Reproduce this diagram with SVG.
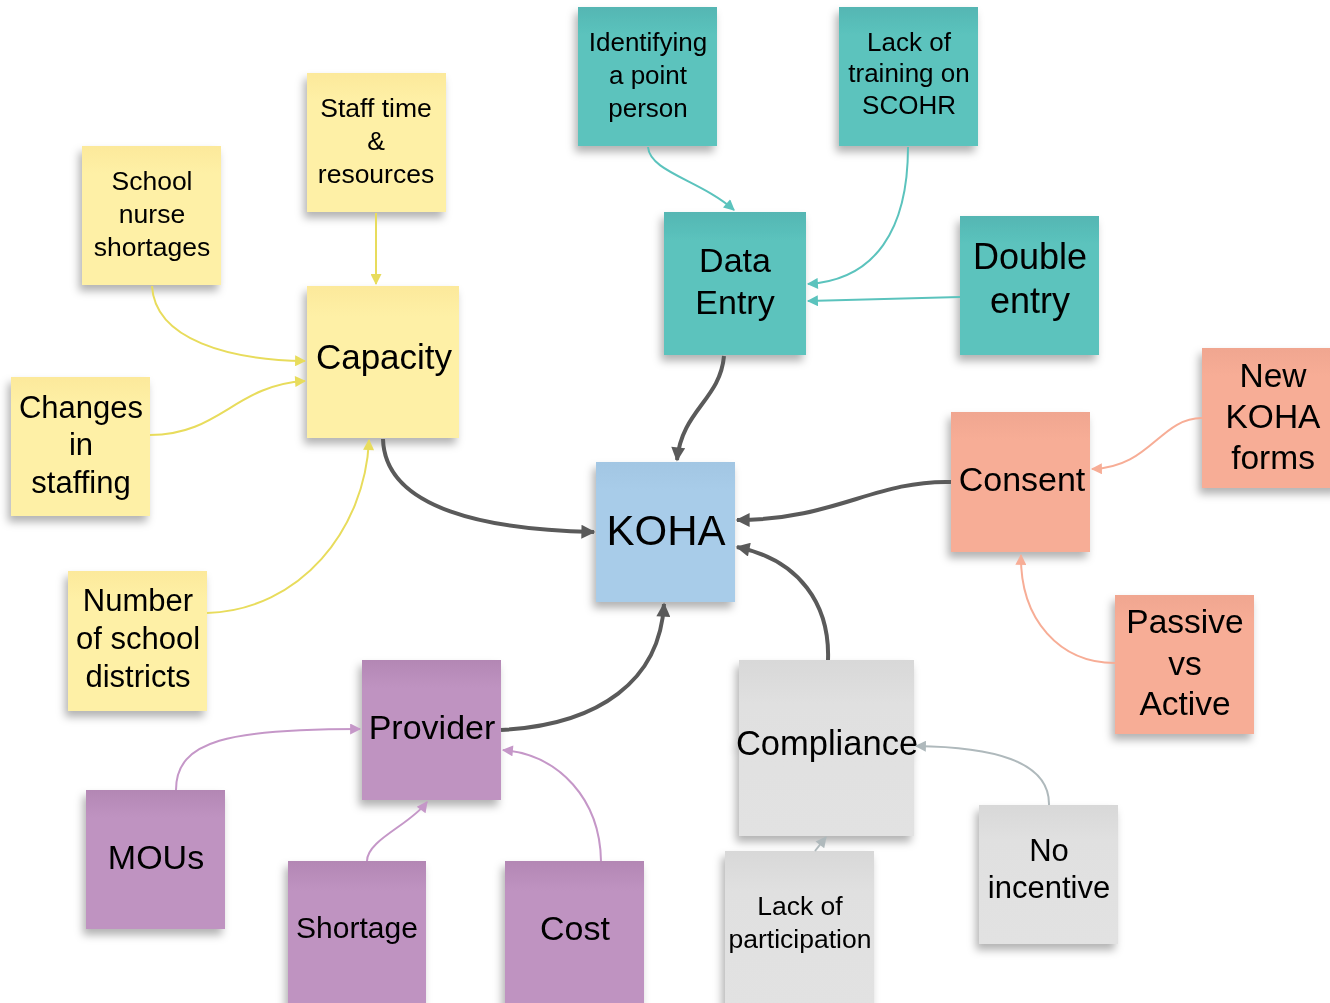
<svg xmlns="http://www.w3.org/2000/svg" width="1330" height="1003" viewBox="0 0 1330 1003">
<style>
text{font-family:"Liberation Sans",Arial,sans-serif;fill:#000;text-anchor:middle}
.note{filter:url(#sh)}
.c{fill:none}
.dk{stroke:#5a5a5a;stroke-width:4}
.tl{stroke:#5BC3BD;stroke-width:2}
.yl{stroke:#E8DC5C;stroke-width:2}
.sl{stroke:#F7AD96;stroke-width:2}
.pl{stroke:#C597C8;stroke-width:2}
.gl{stroke:#AFB9BC;stroke-width:2}
</style>
<defs>
<filter id="sh" x="-20%" y="-20%" width="140%" height="150%">
<feDropShadow dx="-3" dy="6" stdDeviation="4" flood-color="#000" flood-opacity="0.3"/>
</filter>
<linearGradient id="gT" x1="0" y1="0" x2="0" y2="1"><stop offset="0" stop-color="#55B6B3"/><stop offset="0.2" stop-color="#5BC3BD"/><stop offset="1" stop-color="#5BC3BD"/></linearGradient>
<linearGradient id="gY" x1="0" y1="0" x2="0" y2="1"><stop offset="0" stop-color="#FCE99B"/><stop offset="0.2" stop-color="#FEF0A6"/><stop offset="1" stop-color="#FEF0A6"/></linearGradient>
<linearGradient id="gS" x1="0" y1="0" x2="0" y2="1"><stop offset="0" stop-color="#F0A690"/><stop offset="0.2" stop-color="#F7AD96"/><stop offset="1" stop-color="#F7AD96"/></linearGradient>
<linearGradient id="gB" x1="0" y1="0" x2="0" y2="1"><stop offset="0" stop-color="#A2C6E3"/><stop offset="0.2" stop-color="#A8CCE9"/><stop offset="1" stop-color="#A8CCE9"/></linearGradient>
<linearGradient id="gP" x1="0" y1="0" x2="0" y2="1"><stop offset="0" stop-color="#B387B4"/><stop offset="0.2" stop-color="#BF93C1"/><stop offset="1" stop-color="#BF93C1"/></linearGradient>
<linearGradient id="gG" x1="0" y1="0" x2="0" y2="1"><stop offset="0" stop-color="#D8D8D8"/><stop offset="0.25" stop-color="#E0E0E0"/><stop offset="1" stop-color="#E2E2E2"/></linearGradient>
<marker id="aD" viewBox="0 0 10 10" refX="9" refY="5" markerWidth="16" markerHeight="14" markerUnits="userSpaceOnUse" orient="auto"><path d="M0,0 L10,5 L0,10 z" fill="#5a5a5a"/></marker>
<marker id="aT" viewBox="0 0 10 10" refX="9" refY="5" markerWidth="13" markerHeight="11" markerUnits="userSpaceOnUse" orient="auto"><path d="M0,0 L10,5 L0,10 z" fill="#5BC3BD"/></marker>
<marker id="aY" viewBox="0 0 10 10" refX="9" refY="5" markerWidth="13" markerHeight="11" markerUnits="userSpaceOnUse" orient="auto"><path d="M0,0 L10,5 L0,10 z" fill="#E8DC5C"/></marker>
<marker id="aS" viewBox="0 0 10 10" refX="9" refY="5" markerWidth="13" markerHeight="11" markerUnits="userSpaceOnUse" orient="auto"><path d="M0,0 L10,5 L0,10 z" fill="#F7AD96"/></marker>
<marker id="aP" viewBox="0 0 10 10" refX="9" refY="5" markerWidth="13" markerHeight="11" markerUnits="userSpaceOnUse" orient="auto"><path d="M0,0 L10,5 L0,10 z" fill="#C597C8"/></marker>
<marker id="aG" viewBox="0 0 10 10" refX="9" refY="5" markerWidth="13" markerHeight="11" markerUnits="userSpaceOnUse" orient="auto"><path d="M0,0 L10,5 L0,10 z" fill="#AFB9BC"/></marker>
</defs>
<rect width="1330" height="1003" fill="#fff"/>

<g id="identifying" class="note"><rect x="578" y="7" width="139" height="139" fill="url(#gT)"/><text font-size="26"><tspan x="648" y="51">Identifying</tspan><tspan x="648" y="84">a point</tspan><tspan x="648" y="117">person</tspan></text></g>
<g id="lack-training" class="note"><rect x="839" y="7" width="139" height="139" fill="url(#gT)"/><text font-size="26"><tspan x="909" y="51">Lack of</tspan><tspan x="909" y="82">training on</tspan><tspan x="909" y="114">SCOHR</tspan></text></g>
<g id="data-entry" class="note"><rect x="664" y="212" width="142" height="143" fill="url(#gT)"/><text font-size="34"><tspan x="735" y="272">Data</tspan><tspan x="735" y="314">Entry</tspan></text></g>
<g id="double-entry" class="note"><rect x="960" y="216" width="139" height="139" fill="url(#gT)"/><text font-size="36"><tspan x="1030" y="269">Double</tspan><tspan x="1030" y="313">entry</tspan></text></g>

<g id="staff-time" class="note"><rect x="307" y="73" width="139" height="139" fill="url(#gY)"/><text font-size="26.5"><tspan x="376" y="117">Staff time</tspan><tspan x="376" y="150">&amp;</tspan><tspan x="376" y="183">resources</tspan></text></g>
<g id="school-nurse" class="note"><rect x="82" y="146" width="139" height="139" fill="url(#gY)"/><text font-size="26.5"><tspan x="152" y="190">School</tspan><tspan x="152" y="223">nurse</tspan><tspan x="152" y="256">shortages</tspan></text></g>
<g id="capacity" class="note"><rect x="307" y="286" width="152" height="152" fill="url(#gY)"/><text font-size="35" x="384" y="369">Capacity</text></g>
<g id="changes-staffing" class="note"><rect x="11" y="377" width="139" height="139" fill="url(#gY)"/><text font-size="31"><tspan x="81" y="418">Changes</tspan><tspan x="81" y="455">in</tspan><tspan x="81" y="493">staffing</tspan></text></g>
<g id="number-districts" class="note"><rect x="68" y="571" width="139" height="140" fill="url(#gY)"/><text font-size="31"><tspan x="138" y="611">Number</tspan><tspan x="138" y="649">of school</tspan><tspan x="138" y="687">districts</tspan></text></g>

<g id="koha" class="note"><rect x="596" y="462" width="139" height="140" fill="url(#gB)"/><text font-size="42" x="666" y="545">KOHA</text></g>

<g id="consent" class="note"><rect x="951" y="412" width="139" height="140" fill="url(#gS)"/><text font-size="34" x="1022" y="491">Consent</text></g>
<g id="new-koha-forms" class="note"><rect x="1202" y="348" width="139" height="140" fill="url(#gS)"/><text font-size="33.5"><tspan x="1273" y="387">New</tspan><tspan x="1273" y="428">KOHA</tspan><tspan x="1273" y="469">forms</tspan></text></g>
<g id="passive-active" class="note"><rect x="1115" y="595" width="139" height="139" fill="url(#gS)"/><text font-size="33.5"><tspan x="1185" y="633">Passive</tspan><tspan x="1185" y="675">vs</tspan><tspan x="1185" y="715">Active</tspan></text></g>

<g id="compliance" class="note"><rect x="739" y="660" width="175" height="176" fill="url(#gG)"/><text font-size="34.5" x="827" y="755">Compliance</text></g>
<g id="no-incentive" class="note"><rect x="979" y="805" width="139" height="139" fill="url(#gG)"/><text font-size="31"><tspan x="1049" y="861">No</tspan><tspan x="1049" y="898">incentive</tspan></text></g>
<g id="lack-participation" class="note"><rect x="725" y="851" width="149" height="160" fill="url(#gG)"/><text font-size="26.5"><tspan x="800" y="915">Lack of</tspan><tspan x="800" y="948">participation</tspan></text></g>

<g id="provider" class="note"><rect x="362" y="660" width="139" height="140" fill="url(#gP)"/><text font-size="34" x="432" y="739">Provider</text></g>
<g id="mous" class="note"><rect x="86" y="790" width="139" height="139" fill="url(#gP)"/><text font-size="34" x="156" y="869">MOUs</text></g>
<g id="shortage" class="note"><rect x="288" y="861" width="138" height="150" fill="url(#gP)"/><text font-size="30" x="357" y="938">Shortage</text></g>
<g id="cost" class="note"><rect x="505" y="861" width="139" height="150" fill="url(#gP)"/><text font-size="34" x="575" y="940">Cost</text></g>

<g id="connectors" class="c">
<path class="tl" d="M648,147 C650,172 700,180 734,210" marker-end="url(#aT)"/>
<path class="tl" d="M908,147 C908,230 875,280 808,284" marker-end="url(#aT)"/>
<path class="tl" d="M960,297 L808,301" marker-end="url(#aT)"/>
<path class="dk" d="M724,356 C720,400 682,410 677,460" marker-end="url(#aD)"/>
<path class="dk" d="M383,439 C385,510 490,530 594,532" marker-end="url(#aD)"/>
<path class="dk" d="M951,482 C875,480 835,520 737,520" marker-end="url(#aD)"/>
<path class="dk" d="M828,660 C830,605 800,560 737,547" marker-end="url(#aD)"/>
<path class="dk" d="M501,730 C600,725 660,680 664,604" marker-end="url(#aD)"/>
<path class="yl" d="M376,213 L376,284" marker-end="url(#aY)"/>
<path class="yl" d="M152,286 C155,340 230,360 305,361" marker-end="url(#aY)"/>
<path class="yl" d="M150,435 C220,435 235,385 305,381" marker-end="url(#aY)"/>
<path class="yl" d="M207,613 C300,610 365,530 369,440" marker-end="url(#aY)"/>
<path class="sl" d="M1202,418 C1160,418 1150,468 1092,469" marker-end="url(#aS)"/>
<path class="sl" d="M1115,663 C1060,663 1020,620 1021,555" marker-end="url(#aS)"/>
<path class="gl" d="M1049,805 C1050,760 990,747 916,746" marker-end="url(#aG)"/>
<path class="gl" d="M815,851 L826,837" marker-end="url(#aG)"/>
<path class="pl" d="M176,790 C176,740 230,729 360,729" marker-end="url(#aP)"/>
<path class="pl" d="M367,861 C367,840 410,825 427,802" marker-end="url(#aP)"/>
<path class="pl" d="M601,861 C600,800 560,755 503,750" marker-end="url(#aP)"/>
</g>
</svg>
